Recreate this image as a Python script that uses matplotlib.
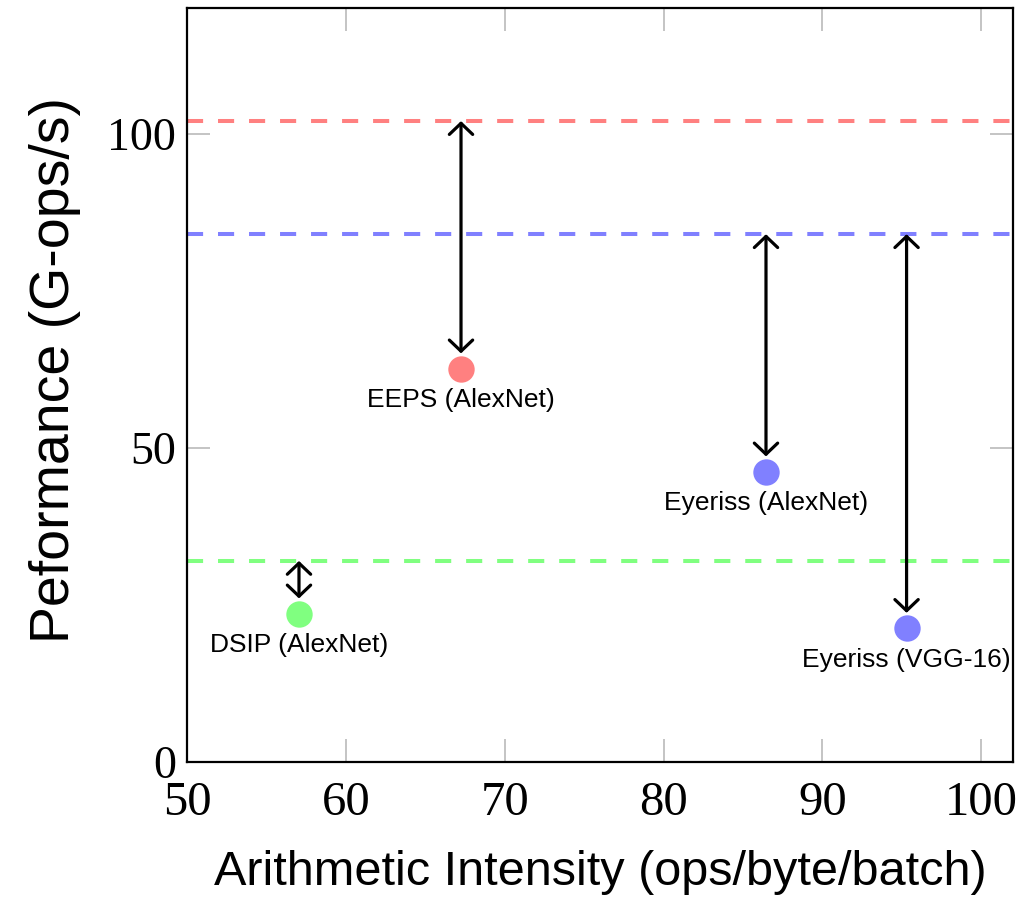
import matplotlib
matplotlib.use("Agg")
import matplotlib.pyplot as plt

# Roofline ceilings (G-ops/s) for each accelerator
roof_names = ["EEPS", "Eyeriss", "DSIP"]
roof_values = [102, 84, 32]
roof_colors = ["#ff8080", "#8080ff", "#80ff80"]

# Measured operating points
labels = ["EEPS (AlexNet)", "Eyeriss (AlexNet)", "Eyeriss (VGG-16)", "DSIP (AlexNet)"]
intensity = [67.25, 86.45, 95.3, 57.05]
performance = [62.6, 46.2, 21.3, 23.6]
point_roof = [102, 84, 84, 32]
point_colors = ["#ff8080", "#8080ff", "#8080ff", "#80ff80"]

x_ticks = [50, 60, 70, 80, 90, 100]
y_ticks = [0, 50, 100]

fig = plt.figure(figsize=(10.2, 9.05), dpi=100)
ax = fig.add_axes([187 / 1020, (905 - 762) / 905, (1013 - 187) / 1020, (762 - 8) / 905])

ax.set_xlim(50, 102)
ax.set_ylim(0, 120)

for val, col in zip(roof_values, roof_colors):
    ax.axhline(val, color=col, lw=2.9, dashes=(4, 3.7), zorder=2)

for x, y, roof, col, lab in zip(intensity, performance, point_roof, point_colors, labels):
    ax.plot([x], [y], "o", color=col, markersize=19, markeredgewidth=0, zorder=4)
    ax.annotate("", xy=(x, roof), xytext=(x, y),
                arrowprops=dict(arrowstyle="<->,head_length=0.4,head_width=0.42",
                                color="black", lw=2.3, shrinkA=11, shrinkB=0,
                                mutation_scale=20),
                zorder=3)
    ax.annotate(lab, xy=(x, y), xytext=(0, -14), textcoords="offset points",
                ha="center", va="top", fontsize=19, family="Liberation Sans")

ax.set_xticks(x_ticks)
ax.set_yticks(y_ticks)
ax.tick_params(axis="both", which="major", direction="in", length=16.5, width=1.1,
               color="#b4b4b4", top=True, right=True)
ax.tick_params(axis="x", pad=14, labelsize=35)
ax.tick_params(axis="y", pad=8, labelsize=33)
for t in ax.get_xticklabels() + ax.get_yticklabels():
    t.set_family("Liberation Serif")

for s in ax.spines.values():
    s.set_linewidth(1.6)
    s.set_color("black")

ax.set_xlabel("Arithmetic Intensity (ops/byte/batch)", fontsize=35,
              family="Liberation Sans", labelpad=18)
ax.set_ylabel("Peformance (G-ops/s)", fontsize=40, family="Liberation Sans")
ax.yaxis.set_label_coords(-0.128, 0.52)

fig.savefig("out.png", dpi=100)
